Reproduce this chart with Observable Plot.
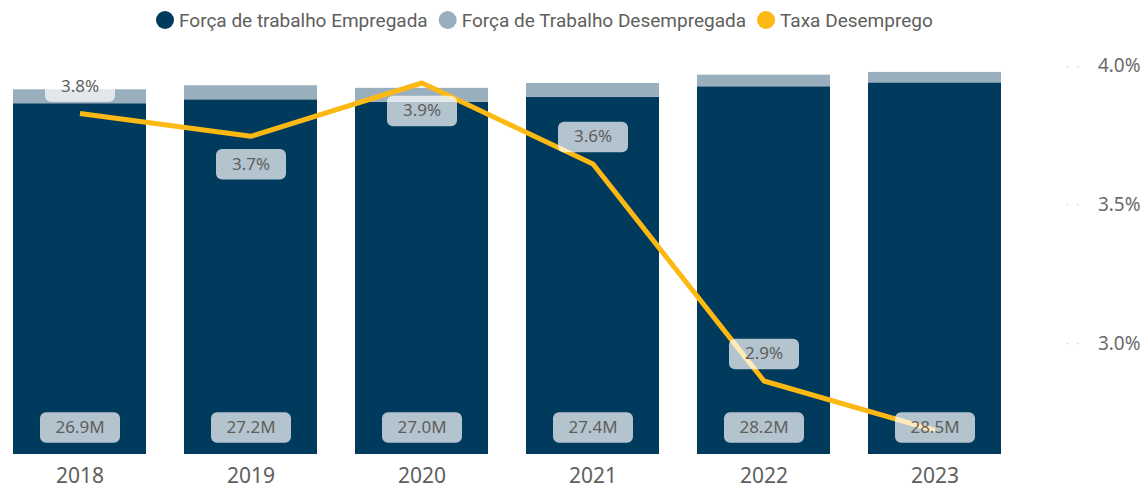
<!DOCTYPE html>
<html><head><meta charset="utf-8">
<script src="https://cdn.jsdelivr.net/npm/d3@7"></script>
<script src="https://cdn.jsdelivr.net/npm/@observablehq/plot@0.6"></script>
<style>
body{margin:0;background:#fff;}
#wrap{position:relative;width:1145px;height:489px;overflow:hidden;}
#legend{position:absolute;top:0;left:0;}
</style></head><body><div id="wrap"></div>
<script>
const years = ["2018", "2019", "2020", "2021", "2022", "2023"];
const employed = [26.9, 27.2, 27.0, 27.4, 28.2, 28.5];
const unemployed = [1.07, 1.08, 1.08, 1.05, 0.89, 0.80];
const rate = [3.83, 3.748, 3.94, 3.648, 2.866, 2.688];
const rateLabelSide = ["above", "below", "below", "above", "above", "none"];
const rateTicks = [3.0, 3.5, 4.0];
const seriesNames = ["Força de trabalho Empregada", "Força de Trabalho Desempregada", "Taxa Desemprego"];
const colors = ["#003a5c", "#9aafbd", "#fdb913"];

const Y_MAX = 32, R_MIN = 2.601, R_MAX = 4.105;
const r2y = r => (r - R_MIN) / (R_MAX - R_MIN) * Y_MAX;
const y2r = y => R_MIN + y / Y_MAX * (R_MAX - R_MIN);

const rows = years.flatMap((yr, i) => [
  {year: yr, series: seriesNames[0], value: employed[i]},
  {year: yr, series: seriesNames[1], value: unemployed[i]}
]);
const rateRows = years.map((yr, i) => ({year: yr, r: rate[i], side: rateLabelSide[i]}));
const empRows = years.map((yr, i) => ({year: yr, v: employed[i]}));

const labelFill = "#605e5c";
const font = "'Noto Sans', 'Open Sans', sans-serif";

// rounded rectangle "symbol" used as the data-label background
const roundBox = (w, h, r) => ({
  draw(ctx) {
    const x0 = -w / 2, y0 = -h / 2, x1 = w / 2, y1 = h / 2;
    ctx.moveTo(x0 + r, y0);
    ctx.arcTo(x1, y0, x1, y1, r);
    ctx.arcTo(x1, y1, x0, y1, r);
    ctx.arcTo(x0, y1, x0, y0, r);
    ctx.arcTo(x0, y0, x1, y0, r);
    ctx.closePath();
  }
});
const boxM = roundBox(80, 30.5, 6);
const boxP = roundBox(70, 30.5, 6);
const boxStyle = {fill: "#ffffff", fillOpacity: 0.7, stroke: null};

const above = rateRows.filter(d => d.side === "above");
const below = rateRows.filter(d => d.side === "below");

const chart = Plot.plot({
  width: 1145,
  height: 489,
  marginLeft: 10,
  marginRight: 141,
  marginTop: 454 - 32 * 13.04,
  marginBottom: 35,
  style: {fontFamily: font, background: "transparent"},
  x: {domain: years, paddingInner: 0.22, paddingOuter: 0, axis: null},
  y: {domain: [0, Y_MAX], axis: null},
  color: {domain: seriesNames.slice(0, 2), range: colors.slice(0, 2)},
  marks: [
    Plot.barY(rows, {x: "year", y: "value", fill: "series"}),
    Plot.axisX({tickSize: 0, tickPadding: 14, fontSize: 21, color: "#605e5c", label: null}),
    Plot.axisY(rateTicks.map(r2y), {anchor: "right", tickSize: 0, tickPadding: 0, textAnchor: "end", dx: 136, label: null,
      tickFormat: d => y2r(d).toFixed(1) + "%", fontSize: 19, fill: "#6b6b6b"}),
    Plot.axisY(rateTicks.map(r2y), {anchor: "right", tickSize: 0, tickPadding: 0, textAnchor: "middle", dx: 68, label: null,
      tickFormat: () => "·   ·", fontSize: 10, fill: "#c4c4c4"}),
    Plot.line(rateRows, {x: "year", y: d => r2y(d.r), stroke: colors[2], strokeWidth: 5, strokeLinejoin: "miter", strokeLinecap: "butt"}),
    Plot.dot(empRows, {x: "year", y: 0, dy: -27, symbol: boxM, ...boxStyle}),
    Plot.dot(above, {x: "year", y: d => r2y(d.r), dy: -27, symbol: boxP, ...boxStyle}),
    Plot.dot(below, {x: "year", y: d => r2y(d.r), dy: 28, symbol: boxP, ...boxStyle}),
    Plot.text(empRows, {x: "year", y: 0, dy: -27, text: d => d.v.toFixed(1) + "M", fill: labelFill, fontSize: 17}),
    Plot.text(above, {x: "year", y: d => r2y(d.r), dy: -27, text: d => d.r.toFixed(1) + "%", fill: labelFill, fontSize: 17}),
    Plot.text(below, {x: "year", y: d => r2y(d.r), dy: 28, text: d => d.r.toFixed(1) + "%", fill: labelFill, fontSize: 17})
  ]
});

const wrap = document.getElementById("wrap");
wrap.appendChild(chart);

// legend
const lg = d3.select(wrap).append("svg").attr("id", "legend").attr("width", 1145).attr("height", 40)
  .style("font-family", "Roboto, 'Noto Sans', sans-serif").style("font-size", "19px");
let lx = 156;
seriesNames.forEach((name, i) => {
  lg.append("circle").attr("cx", lx + 9).attr("cy", 20).attr("r", 9).attr("fill", colors[i]);
  const t = lg.append("text").attr("x", lx + 23).attr("y", 20).attr("dy", "0.35em").attr("fill", "#605e5c").text(name);
  const w = t.node().getComputedTextLength();
  lx = lx + 23 + w + 11;
});
</script>
</body></html>
